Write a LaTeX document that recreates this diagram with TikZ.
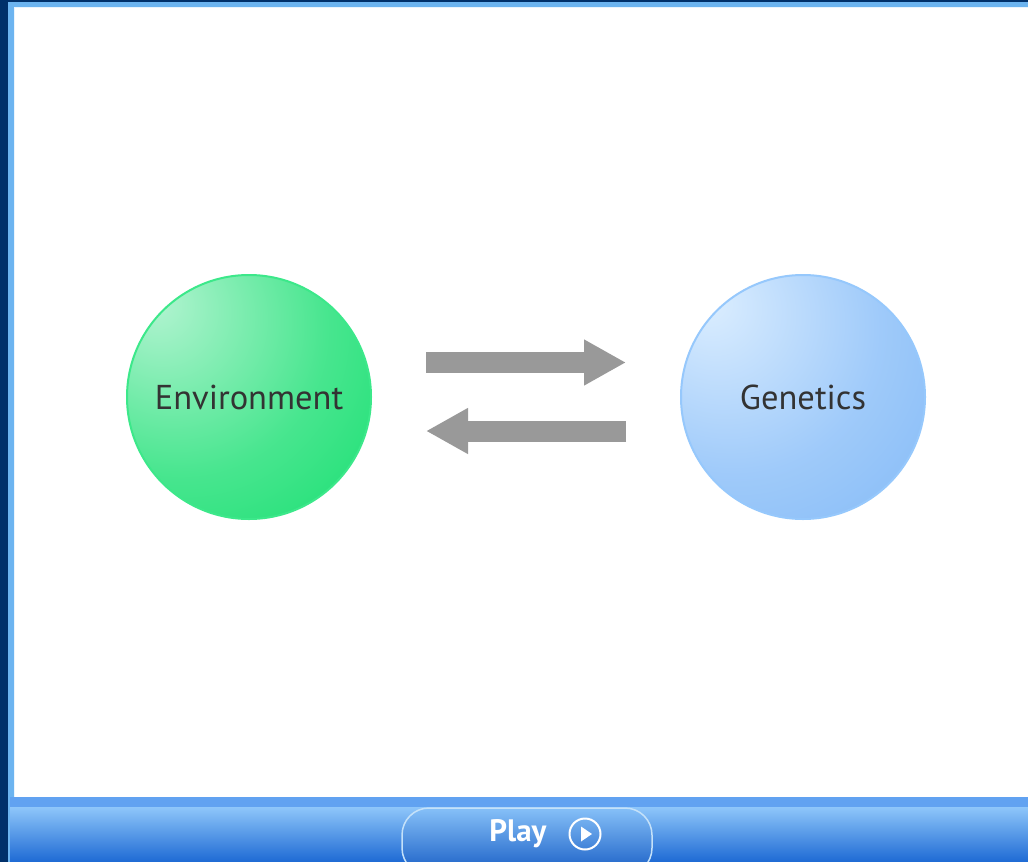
\documentclass[tikz,border=0pt]{standalone}
\usepackage{fontspec}
\setmainfont{PT Sans}
\usetikzlibrary{arrows.meta}
\definecolor{navy}{HTML}{00306A}
\definecolor{frameblue}{HTML}{6CB4F0}
\definecolor{barlight}{HTML}{8EC6FA}
\definecolor{bardark}{HTML}{1E6AD4}
\definecolor{btnlight}{HTML}{86C0F8}
\definecolor{btndark}{HTML}{165CC4}
\definecolor{envlight}{HTML}{B4F4D2}
\definecolor{envdark}{HTML}{00DC62}
\definecolor{envborder}{HTML}{3CE88A}
\definecolor{genlight}{HTML}{DCEEFF}
\definecolor{gendark}{HTML}{76B2F6}
\definecolor{genborder}{HTML}{96C8FC}
\definecolor{arrowgray}{HTML}{999999}
\definecolor{txt}{HTML}{333333}
\pgfdeclareradialshading{envshade}{\pgfpoint{-20bp}{20bp}}{color(0bp)=(envlight); color(30bp)=(envdark!60!envlight); color(62bp)=(envdark); color(100bp)=(envdark)}
\pgfdeclareradialshading{genshade}{\pgfpoint{-20bp}{20bp}}{color(0bp)=(genlight); color(30bp)=(gendark!60!genlight); color(62bp)=(gendark); color(100bp)=(gendark)}
\tikzset{
  ball/.style={circle, minimum size=244pt, inner sep=0pt, line width=2pt, text=txt, font=\fontsize{34.5}{34.5}\selectfont},
  bigarrow/.style={draw=arrowgray, line width=21pt, -{Triangle[length=42pt,width=43pt]}, shorten <=54pt, shorten >=54pt}
}
\begin{document}
\begin{tikzpicture}[x=1pt,y=-1pt]
\useasboundingbox (0,0) rectangle (1028,862);
% background frame
\fill[navy] (0,0) rectangle (1028,862);
\fill[frameblue] (8,2) rectangle (1028,862);
\fill[white!85!frameblue] (14,7) rectangle (1028,798);
\fill[white] (15,8) rectangle (1028,797);
% bottom bar
\fill[frameblue!90!blue] (10,797) rectangle (1028,807);
\shade[top color=barlight, bottom color=bardark] (10,807) rectangle (1028,862);
\begin{scope}
\clip (0,0) rectangle (1028,862);
\shade[top color=btnlight, bottom color=btndark, draw=white!60!frameblue, line width=1.5pt, rounded corners=27pt] (402,808) rectangle (652,875);
\end{scope}
\node[text=white, font=\fontsize{31}{31}\selectfont\bfseries] (play) at (518,834) {Play};
\node[circle, draw=white, line width=2pt, minimum size=31pt, inner sep=0pt] (icon) at (585,834) {};
\fill[white] ([xshift=-4pt,yshift=7.5pt]icon.center) -- ([xshift=-4pt,yshift=-7.5pt]icon.center) -- ([xshift=7pt]icon.center) -- cycle;
% circles
\node[ball, shading=envshade, draw=envborder] (env) at (249,397) {Environment};
\node[ball, shading=genshade, draw=genborder] (gen) at (803,397) {Genetics};
% arrows
\draw[bigarrow] ([yshift=34.5pt]env.east) -- ([yshift=34.5pt]gen.west);
\draw[bigarrow] ([yshift=-34pt]gen.west) -- ([yshift=-34pt]env.east);
\end{tikzpicture}
\end{document}
